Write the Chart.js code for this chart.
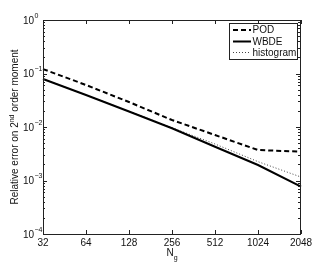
<!DOCTYPE html>
<html><head><meta charset="utf-8">
<script src="https://cdn.jsdelivr.net/npm/chart.js@4/dist/chart.umd.min.js"></script>
<style>html,body{margin:0;padding:0;background:#fff;overflow:hidden}#c{display:block}</style>
</head><body>
<canvas id="c" width="332" height="265"></canvas>
<script>
const categories = ['32','64','128','256','512','1024','2048'];
const podValues  = [0.121, 0.061, 0.0293, 0.0135, 0.00708, 0.00372, 0.00345];
const wbdeValues = [0.0789, 0.0397, 0.0195, 0.00946, 0.00428, 0.00195, 0.000766];
const histValues = [0.079, 0.0397, 0.0197, 0.0097, 0.00481, 0.00225, 0.00116];
const yTickValues = [1, 0.1, 0.01, 0.001, 0.0001];
const yTickExponents = ['0', '-1', '-2', '-3', '-4'];
const seriesNames = ['POD', 'WBDE', 'histogram'];
const yTitleMain = 'Relative error on 2';
const yTitleSup = 'nd';
const yTitleRest = ' order moment';
const xTitleMain = 'N';
const xTitleSub = 'g';

const FONT = '"Liberation Sans", Arial, Helvetica, sans-serif';
const AXIS = '#222';

const decor = {
  id: 'decor',
  afterDraw(chart) {
    const ctx = chart.ctx, a = chart.chartArea;
    const xs = chart.scales.x, ys = chart.scales.y;
    ctx.save();
    // box
    ctx.strokeStyle = AXIS; ctx.lineWidth = 1;
    ctx.strokeRect(Math.round(a.left) + 0.5, Math.round(a.top) + 0.5,
      Math.round(a.right - a.left) - 1, Math.round(a.bottom - a.top));
    ctx.beginPath();
    // x ticks
    categories.forEach((c, i) => {
      const x = Math.round(xs.getPixelForValue(i)) + 0.5;
      ctx.moveTo(x, a.bottom); ctx.lineTo(x, a.bottom - 4);
      ctx.moveTo(x, a.top); ctx.lineTo(x, a.top + 4);
    });
    // y ticks major + minor
    for (let e = -4; e <= 0; e++) {
      const y = Math.round(ys.getPixelForValue(Math.pow(10, e))) + 0.5;
      ctx.moveTo(a.left, y); ctx.lineTo(a.left + 4, y);
      ctx.moveTo(a.right - 1, y); ctx.lineTo(a.right - 5, y);
      if (e < 0) {
        for (let m = 2; m <= 9; m++) {
          const ym = Math.round(ys.getPixelForValue(m * Math.pow(10, e))) + 0.5;
          ctx.moveTo(a.left, ym); ctx.lineTo(a.left + 2, ym);
          ctx.moveTo(a.right - 1, ym); ctx.lineTo(a.right - 3, ym);
        }
      }
    }
    ctx.stroke();

    // x tick labels
    ctx.fillStyle = '#111';
    ctx.font = '10px ' + FONT;
    ctx.textAlign = 'center'; ctx.textBaseline = 'middle';
    categories.forEach((c, i) => {
      ctx.fillText(c, xs.getPixelForValue(i), 243);
    });
    // y tick labels with superscripts
    yTickValues.forEach((v, i) => {
      const y = ys.getPixelForValue(v);
      ctx.font = '10px ' + FONT;
      ctx.textAlign = 'right'; ctx.textBaseline = 'middle';
      ctx.fillText('10', 34, y + 1);
      ctx.font = '7px ' + FONT;
      ctx.textAlign = 'left';
      ctx.fillText(yTickExponents[i].replace('-', '\u2212'), 34.5, y - 4);
    });

    // x title N_g
    ctx.font = '10px ' + FONT;
    ctx.textAlign = 'left'; ctx.textBaseline = 'alphabetic';
    const nW = ctx.measureText(xTitleMain).width;
    ctx.fillText(xTitleMain, 166.5, 256);
    ctx.font = '7px ' + FONT;
    ctx.fillText(xTitleSub, 166.5 + nW, 260);

    // y title rotated
    ctx.save();
    ctx.translate(18, 127);
    ctx.rotate(-Math.PI / 2);
    ctx.font = '10px ' + FONT;
    const w1 = ctx.measureText(yTitleMain).width;
    const w3 = ctx.measureText(yTitleRest).width;
    ctx.font = '7px ' + FONT;
    const w2 = ctx.measureText(yTitleSup).width;
    const tot = w1 + w2 + w3;
    let x0 = -tot / 2;
    ctx.textAlign = 'left'; ctx.textBaseline = 'alphabetic';
    ctx.font = '10px ' + FONT;
    ctx.fillText(yTitleMain, x0, 0);
    ctx.font = '7px ' + FONT;
    ctx.fillText(yTitleSup, x0 + w1, -4);
    ctx.font = '10px ' + FONT;
    ctx.fillText(yTitleRest, x0 + w1 + w2, 0);
    ctx.restore();

    // legend
    const lx = 229.5, ly = 23.5, lw = 68, lh = 36;
    ctx.fillStyle = '#fff';
    ctx.fillRect(lx, ly, lw, lh);
    ctx.strokeStyle = AXIS; ctx.lineWidth = 1; ctx.setLineDash([]);
    ctx.strokeRect(lx, ly, lw, lh);
    const rows = [30, 41.5, 52.5];
    chart.data.datasets.forEach((ds, i) => {
      ctx.save();
      ctx.strokeStyle = ds.borderColor;
      ctx.lineWidth = ds.borderWidth;
      ctx.setLineDash(ds.borderDash || []);
      ctx.beginPath();
      ctx.moveTo(233, rows[i]); ctx.lineTo(251, rows[i]);
      ctx.stroke();
      ctx.restore();
      ctx.fillStyle = '#111';
      ctx.font = '10px ' + FONT;
      ctx.textAlign = 'left'; ctx.textBaseline = 'middle';
      ctx.fillText(ds.label, 252.5, rows[i] + 0.5);
    });
    ctx.restore();
  }
};

new Chart(document.getElementById('c'), {
  type: 'line',
  data: {
    labels: categories,
    datasets: [
      { label: seriesNames[0], data: podValues, borderColor: '#000', borderWidth: 2, borderDash: [5, 3], pointRadius: 0, fill: false, tension: 0 },
      { label: seriesNames[1], data: wbdeValues, borderColor: '#000', borderWidth: 2, pointRadius: 0, fill: false, tension: 0 },
      { label: seriesNames[2], data: histValues, borderColor: '#444', borderWidth: 1, borderDash: [1, 2], pointRadius: 0, fill: false, tension: 0 }
    ]
  },
  options: {
    responsive: false,
    devicePixelRatio: 1,
    animation: false,
    layout: { padding: { left: 0, right: 31, top: 20, bottom: 0 } },
    plugins: { legend: { display: false }, tooltip: { enabled: false } },
    scales: {
      x: {
        type: 'category', offset: false,
        grid: { display: false }, border: { display: false },
        ticks: { display: false },
        afterFit(s) { s.height = 31; }
      },
      y: {
        type: 'logarithmic', min: 0.0001, max: 1,
        grid: { display: false }, border: { display: false },
        ticks: { display: false },
        afterFit(s) { s.width = 43; }
      }
    }
  },
  plugins: [decor]
});
</script>
</body></html>
